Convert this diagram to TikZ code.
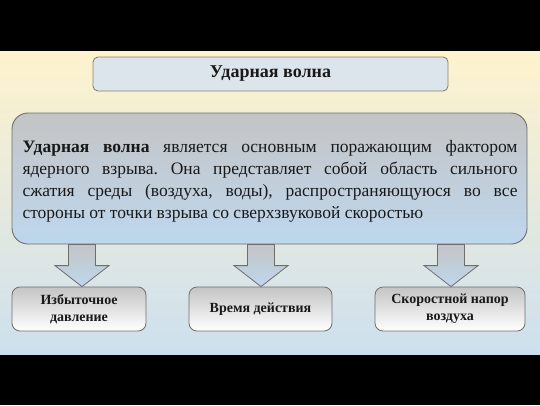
\documentclass[tikz,border=0pt]{standalone}
\usepackage{fontspec}
\setmainfont{Liberation Serif}
\usetikzlibrary{calc}
\definecolor{bgtop}{RGB}{254,243,206}
\definecolor{bgbot}{RGB}{205,224,238}
\definecolor{titlefill}{RGB}{220,228,236}
\definecolor{titleedge}{RGB}{140,130,108}
\definecolor{boxedge}{RGB}{110,110,110}
\definecolor{greytop}{RGB}{196,196,196}
\definecolor{bluebot}{RGB}{190,215,238}
\definecolor{txt}{RGB}{25,25,25}
\tikzset{
  titlebox/.style={draw=titleedge, line width=0.9pt, fill=titlefill, rounded corners=5pt,
    minimum width=355pt, minimum height=34pt, font=\fontsize{18}{21}\selectfont\bfseries, text=txt},
  mainbox/.style={draw=boxedge, line width=0.9pt, top color=greytop, bottom color=bluebot,
    rounded corners=16pt, minimum width=515pt, minimum height=131pt},
  maintext/.style={text width=495pt, align=justify, font=\fontsize{17.5}{22}\selectfont, text=txt, inner sep=0pt},
  leafbox/.style={draw=boxedge, line width=0.8pt, top color=greytop, bottom color=white,
    rounded corners=8pt, minimum height=44pt, align=center,
    font=\fontsize{14}{17}\selectfont\bfseries, text=txt},
  blockarrow/.style={draw=boxedge, line width=0.8pt, top color=greytop, bottom color=bluebot}
}
\begin{document}
\begin{tikzpicture}[x=1pt,y=-1pt]
\useasboundingbox (0,0) rectangle (540,405);
\shade[top color=bgtop, bottom color=bgbot] (0,51) rectangle (540,355);
\fill[black] (0,0) rectangle (540,51);
\fill[black] (0,355) rectangle (540,405);

\node[titlebox] (title) at (270.5,74) {Ударная волна};

\node[mainbox] (main) at (269.5,178.5) {};
\node[maintext, anchor=north] (mtext) at (270,140) {\hyphenpenalty=10000\exhyphenpenalty=10000\frenchspacing
\textbf{Ударная волна} является основным поражающим фактором\linebreak
ядерного взрыва. Она представляет собой область сильного\linebreak
сжатия среды (воздуха, воды), распространяющуюся во все\linebreak
стороны от точки взрыва со сверхзвуковой скоростью};

\node[leafbox, minimum width=134pt] (b1) at (79,309) {Избыточное\\давление};
\node[leafbox, minimum width=143pt] (b2) at (260.5,309) {Время действия};
\node[leafbox, minimum width=150pt] (b3) at (450,309) {Скоростной напор\\воздуха};

\foreach \b/\dx in {b1/3, b2/0.5, b3/1}{
  \coordinate (T) at ([xshift=\dx pt]\b.north);
  \draw[blockarrow] (T) -- ++(-27,-21) -- ++(13.5,0)
    -- ($(T |- main.south)+(-13.5,0)$) -- ++(27,0)
    -- ($(T)+(13.5,-21)$) -- ++(13.5,0) -- cycle;
}
\end{tikzpicture}
\end{document}
